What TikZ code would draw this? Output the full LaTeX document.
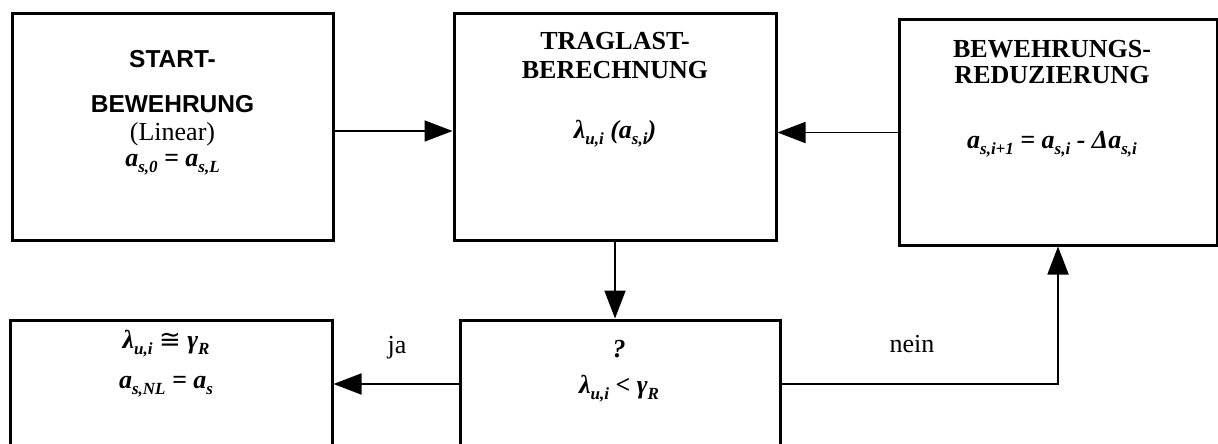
\documentclass[tikz,border=0pt]{standalone}
\usepackage{fontspec}
\setmainfont{Liberation Serif}
\newfontfamily\arialfont{Liberation Sans}
\newfontfamily\dvsans{DejaVu Sans}
\usetikzlibrary{arrows.meta}
\newcommand{\mysub}[1]{\raisebox{-0.25em}{\fontsize{17}{17}\selectfont #1}}
\tikzset{
  box/.style={draw, line width=3pt, rectangle, inner sep=0pt},
  conn/.style={line width=1.8pt, -{Triangle[length=28pt,width=21pt]}},
  txt/.style={anchor=base, inner sep=0pt, font=\fontsize{26}{28}\selectfont},
  bi/.style={txt, font=\fontsize{26}{28}\selectfont\bfseries\itshape},
  hd/.style={txt, font=\fontsize{26}{28}\selectfont\bfseries},
  hs/.style={txt, font=\fontsize{24.5}{28}\selectfont\arialfont\bfseries},
}
\begin{document}
\begin{tikzpicture}[x=1pt,y=-1pt]
\useasboundingbox (0,0) rectangle (1218,444);
\clip (0,0) rectangle (1218,444);
% boxes
\node[box, minimum width=321pt, minimum height=226pt] (start) at (172.5,127) {};
\node[box, minimum width=322pt, minimum height=226pt] (trag) at (615,127) {};
\node[box, minimum width=318pt, minimum height=225pt] (red) at (1058,132.5) {};
\node[box, minimum width=322pt, minimum height=220pt] (res) at (171,430) {};
\node[box, minimum width=320pt, minimum height=220pt] (check) at (620,430) {};
% texts
\node[hs] (t1a) at (172.5,67) {START-};
\node[hs] (t1b) at (172.5,112) {BEWEHRUNG};
\node[txt] (t1c) at (172.5,140) {(Linear)};
\node[bi] (t1d) at (172.5,166) {a\mysub{s,0} = a\mysub{s,L}};
\node[hd] (t2a) at (615,50) {TRAGLAST-};
\node[hd] (t2b) at (615,78) {BERECHNUNG};
\node[bi] (t2c) at (615,138) {λ\mysub{u,i} (a\mysub{s,i})};
\node[hd] (t3a) at (1052,58) {BEWEHRUNGS-};
\node[hd] (t3b) at (1052,84) {REDUZIERUNG};
\node[bi] (t3c) at (1052,148) {a\mysub{s,i+1} = a\mysub{s,i} - Δa\mysub{s,i}};
\node[bi] (t4a) at (166,348) {λ\mysub{u,i} {\dvsans\upshape\mdseries ≅} γ\mysub{R}};
\node[bi] (t4b) at (166,388) {a\mysub{s,NL} = a\mysub{s}};
\node[bi] (t5a) at (619,357) {?};
\node[bi] (t5b) at (619,393) {λ\mysub{u,i} < γ\mysub{R}};
% connectors
\coordinate (ya) at (0,131);
\coordinate (yr) at (0,384);
\draw[conn] (start.east |- ya) -- (trag.west |- ya);
\draw[conn] (red.west) -- (red.west -| trag.east);
\draw[conn] (trag.south) -- (trag.south |- check.north);
\draw[conn] (check.west |- yr) -- (res.east |- yr);
\draw[conn] (check.east |- yr) -| (red.south);
% labels
\node[txt] (ja) at (397,353) {ja};
\node[txt] (nein) at (912,352) {nein};
\end{tikzpicture}
\end{document}
